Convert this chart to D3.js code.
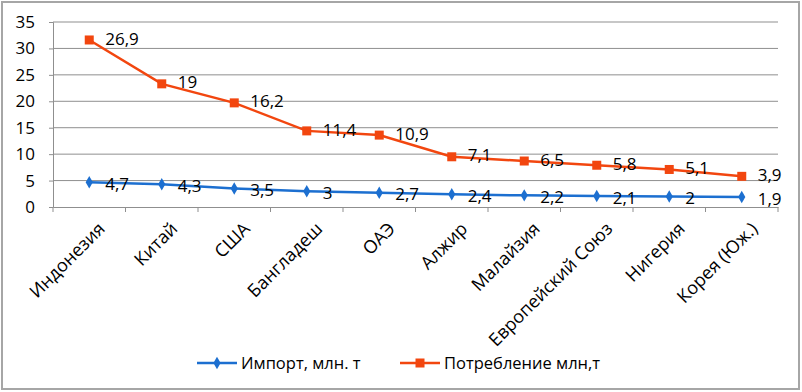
<!DOCTYPE html>
<html>
<head>
<meta charset="utf-8">
<script src="https://cdn.jsdelivr.net/npm/d3@7"></script>
<style>
  body { margin: 0; background: #fff; }
  svg text { font-family: "Open Sans", Lato, sans-serif; fill: #000; }
</style>
</head>
<body>
<svg id="chart" width="802" height="392"></svg>
<script>
'use strict';

const categories = ['Индонезия', 'Китай', 'США', 'Бангладеш', 'ОАЭ', 'Алжир',
    'Малайзия', 'Европейский Союз', 'Нигерия', 'Корея (Юж.)'];
const importValues = [4.7, 4.3, 3.5, 3, 2.7, 2.4, 2.2, 2.1, 2, 1.9];
const consumptionValues = [26.9, 19, 16.2, 11.4, 10.9, 7.1, 6.5, 5.8, 5.1, 3.9];
const yTicks = [0, 5, 10, 15, 20, 25, 30, 35];
const seriesNames = ['Импорт, млн. т', 'Потребление млн,т'];

const blue = '#1c6fd0';
const orange = '#f2460f';

const svg = d3.select('#chart');
const margin = {left: 53, right: 24, top: 22, bottom: 185};
const W = 802, H = 392;

// frame
svg.append('rect').attr('x', 2).attr('y', 2).attr('width', W - 5).attr('height', H - 5)
    .attr('fill', '#fff').attr('stroke', '#a6a6a6').attr('stroke-width', 2);

const x = d3.scaleBand().domain(categories)
    .range([margin.left, W - margin.right]);
const y = d3.scaleLinear().domain([0, 35])
    .range([H - margin.bottom, margin.top]);

// grid
svg.append('g').selectAll('line').data(yTicks.slice(1)).enter().append('line')
    .attr('x1', margin.left).attr('x2', W - margin.right)
    .attr('y1', d => y(d)).attr('y2', d => y(d))
    .attr('stroke', '#8f8f8f').attr('stroke-width', 1);

// y axis
const yAxis = svg.append('g').attr('transform', 'translate(' + margin.left + ',0)')
    .call(d3.axisLeft(y).tickValues(yTicks).tickSize(4).tickPadding(14)
        .tickFormat(d => d));
yAxis.selectAll('path, line').attr('stroke', '#8f8f8f');
yAxis.selectAll('text').style('font-size', '17px').attr('font-family', null);

// x axis
const xAxis = svg.append('g').attr('transform', 'translate(0,' + y(0) + ')')
    .call(d3.axisBottom(x).tickSize(0).tickFormat(''));
xAxis.select('.domain').attr('stroke', '#8f8f8f');
xAxis.selectAll('.tick').remove();
const bounds = categories.map(c => x(c)).concat([x(categories[categories.length - 1]) + x.bandwidth()]);
xAxis.selectAll('line.t').data(bounds).enter().append('line')
    .attr('x1', d => d).attr('x2', d => d).attr('y1', 0).attr('y2', 5)
    .attr('stroke', '#8f8f8f');
xAxis.selectAll('text.cat').data(categories).enter().append('text')
    .attr('class', 'cat')
    .attr('transform', d => 'translate(' + (x(d) + x.bandwidth() / 2 + 8) + ',14) rotate(-45)')
    .attr('text-anchor', 'end')
    .attr('dy', '0.7em')
    .style('font-size', '18px')
    .text(d => d);

// series (stacked line)
const cx = c => x(c) + x.bandwidth() / 2;
const importPts = categories.map((c, i) => ({c: c, v: importValues[i], top: importValues[i]}));
const consPts = categories.map((c, i) => ({c: c, v: consumptionValues[i],
    top: importValues[i] + consumptionValues[i]}));

const line = d3.line().x(d => cx(d.c)).y(d => y(d.top));

svg.append('path').datum(importPts).attr('d', line)
    .attr('fill', 'none').attr('stroke', blue).attr('stroke-width', 2.5);
svg.append('path').datum(consPts).attr('d', line)
    .attr('fill', 'none').attr('stroke', orange).attr('stroke-width', 2.5);

const diamond = d3.symbol().type(d3.symbolDiamond).size(45);
svg.append('g').selectAll('path').data(importPts).enter().append('path')
    .attr('d', diamond)
    .attr('transform', d => 'translate(' + cx(d.c) + ',' + y(d.top) + ')')
    .attr('fill', blue);
svg.append('g').selectAll('rect').data(consPts).enter().append('rect')
    .attr('x', d => cx(d.c) - 4.5).attr('y', d => y(d.top) - 4.5)
    .attr('width', 9).attr('height', 9).attr('fill', orange);

const fmt = v => String(v).replace('.', ',');
[[importPts, 1.5], [consPts, -1.5]].forEach(function(s) {
    svg.append('g').selectAll('text').data(s[0]).enter().append('text')
        .attr('x', d => cx(d.c) + 16).attr('y', d => y(d.top) + s[1])
        .attr('dy', '0.36em')
        .style('font-size', '17px')
        .text(d => fmt(d.v));
});

// legend
const legY = 363;
const leg = [{x: 197, color: blue, name: seriesNames[0], marker: 'd'},
    {x: 400, color: orange, name: seriesNames[1], marker: 's'}];
leg.forEach(function(l) {
    svg.append('line').attr('x1', l.x).attr('x2', l.x + 40)
        .attr('y1', legY).attr('y2', legY)
        .attr('stroke', l.color).attr('stroke-width', 2.5);
    if (l.marker === 'd') {
        svg.append('path').attr('d', diamond)
            .attr('transform', 'translate(' + (l.x + 20) + ',' + legY + ')')
            .attr('fill', l.color);
    } else {
        svg.append('rect').attr('x', l.x + 15.5).attr('y', legY - 4.5)
            .attr('width', 9).attr('height', 9).attr('fill', l.color);
    }
    svg.append('text').attr('x', l.x + 44).attr('y', legY).attr('dy', '0.36em')
        .style('font-size', '16.5px').text(l.name);
});
</script>
</body>
</html>
